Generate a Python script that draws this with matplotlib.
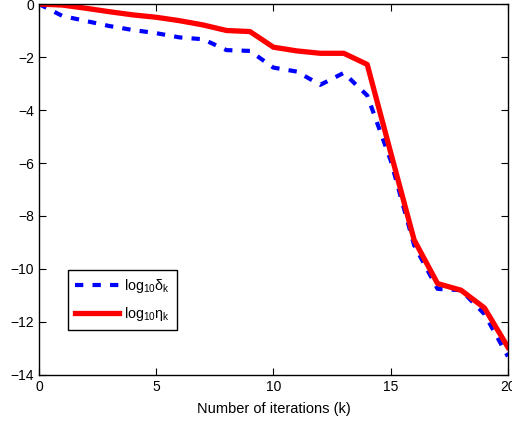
import matplotlib
matplotlib.use("Agg")
import matplotlib.pyplot as plt

plt.rcParams['font.family'] = ['Liberation Sans', 'DejaVu Sans']
plt.rcParams['mathtext.fontset'] = 'custom'
plt.rcParams['mathtext.rm'] = 'Liberation Sans'
plt.rcParams['mathtext.it'] = 'Liberation Sans:italic'
plt.rcParams['mathtext.bf'] = 'Liberation Sans:bold'

iterations = list(range(21))
log_delta = [0, -0.45, -0.64, -0.83, -0.98, -1.1, -1.26, -1.33, -1.74, -1.77,
             -2.4, -2.55, -3.05, -2.6, -3.45, -5.9, -9.1, -10.75, -10.8, -11.7, -13.3]
log_eta = [0, -0.04, -0.16, -0.29, -0.41, -0.5, -0.63, -0.79, -1.0, -1.04,
           -1.63, -1.77, -1.86, -1.86, -2.28, -5.6, -8.9, -10.55, -10.8, -11.47, -12.95]
x_ticks = [0, 5, 10, 15, 20]
y_ticks = [-14, -12, -10, -8, -6, -4, -2, 0]

fig = plt.figure(figsize=(5.12, 4.22), dpi=100)
ax = fig.add_axes([0.076, 0.1114, 0.916, 0.8791])

ax.plot(iterations, log_delta, color='#0000ff', lw=3.0,
        linestyle=(0, (2.0, 2.2)), label='log$_{\\mathrm{10}}$δ$_{\\mathrm{k}}$')
ax.plot(iterations, log_eta, color='#ff0000', lw=3.8,
        label='log$_{\\mathrm{10}}$η$_{\\mathrm{k}}$')

ax.set_xlim(0, 20)
ax.set_ylim(-14, 0)
ax.set_xticks(x_ticks)
ax.set_yticks(y_ticks)
ax.set_yticklabels(['\u2212' + str(abs(v)) if v < 0 else str(v) for v in y_ticks])
ax.tick_params(direction='in', top=True, right=True, length=5, labelsize=10, width=0.8)
for s in ax.spines.values():
    s.set_linewidth(1.0)
ax.set_xlabel('Number of iterations (k)', fontsize=10.5, labelpad=6)

leg = ax.legend(loc='lower left', bbox_to_anchor=(0.062, 0.121), fontsize=10.3,
                handlelength=3.1, frameon=True, fancybox=False, framealpha=1,
                edgecolor='black', borderaxespad=0, handletextpad=0.3,
                borderpad=0.5, labelspacing=0.7)
leg.get_frame().set_linewidth(1.0)

fig.savefig('out.png', dpi=100)
